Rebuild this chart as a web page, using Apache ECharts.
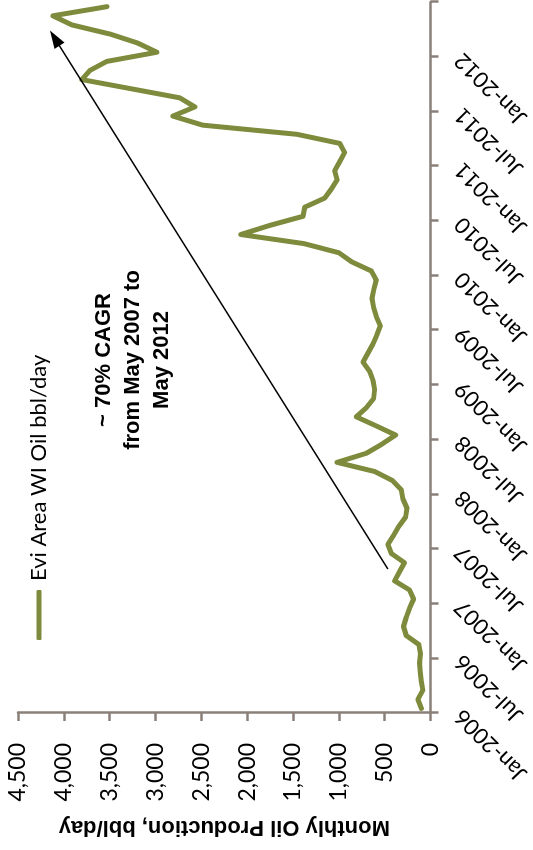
<!DOCTYPE html>
<html>
<head>
<meta charset="utf-8">
<title>Evi Area WI Oil</title>
<script src="https://cdn.jsdelivr.net/npm/echarts@6/dist/echarts.min.js"></script>
<style>
  html, body { margin: 0; padding: 0; background: #fff; overflow: hidden; }
  #stage { position: absolute; left: 0; top: 0; width: 533px; height: 850px; overflow: hidden; background: #fff; }
  /* The chart is laid out landscape (850 x 533) and turned a quarter turn
     counter-clockwise so the time axis runs up the right-hand side. */
  #chart {
    position: absolute; left: 0; top: 0; width: 850px; height: 533px;
    transform-origin: 0 0;
    transform: translate(0, 850px) rotate(-90deg);
  }
</style>
</head>
<body>
<div id="stage"><div id="chart"></div></div>
<script>
// Monthly production, Jan-2006 .. Jun-2012
const months = [
  'Jan-2006','Feb-2006','Mar-2006','Apr-2006','May-2006','Jun-2006','Jul-2006','Aug-2006','Sep-2006','Oct-2006','Nov-2006','Dec-2006',
  'Jan-2007','Feb-2007','Mar-2007','Apr-2007','May-2007','Jun-2007','Jul-2007','Aug-2007','Sep-2007','Oct-2007','Nov-2007','Dec-2007',
  'Jan-2008','Feb-2008','Mar-2008','Apr-2008','May-2008','Jun-2008','Jul-2008','Aug-2008','Sep-2008','Oct-2008','Nov-2008','Dec-2008',
  'Jan-2009','Feb-2009','Mar-2009','Apr-2009','May-2009','Jun-2009','Jul-2009','Aug-2009','Sep-2009','Oct-2009','Nov-2009','Dec-2009',
  'Jan-2010','Feb-2010','Mar-2010','Apr-2010','May-2010','Jun-2010','Jul-2010','Aug-2010','Sep-2010','Oct-2010','Nov-2010','Dec-2010',
  'Jan-2011','Feb-2011','Mar-2011','Apr-2011','May-2011','Jun-2011','Jul-2011','Aug-2011','Sep-2011','Oct-2011','Nov-2011','Dec-2011',
  'Jan-2012','Feb-2012','Mar-2012','Apr-2012','May-2012','Jun-2012'
];

// Evi Area WI oil, bbl/day
const oilBblDay = [
  101, 138, 84, 101, 112, 120, 109, 127, 265, 295, 265, 229,
  185, 229, 392, 338, 285, 428, 465, 403, 345, 272, 258, 302,
  319, 415, 610, 1020, 700, 530, 381, 592, 810, 700, 621, 610,
  628, 665, 737, 683, 628, 585, 548, 592, 621, 639, 618, 592,
  646, 860, 1000, 1380, 2070, 1754, 1391, 1373, 1155, 1082, 1019, 1046,
  991, 937, 991, 1460, 2484, 2811, 2571, 2735, 3269, 3803, 3716, 3530,
  2985, 3192, 3497, 3912, 4119, 3530
];

// Half-year tick labels on the time axis
const tickLabels = [
  'Jan-2006','Jul-2006','Jan-2007','Jul-2007','Jan-2008','Jul-2008','Jan-2009',
  'Jul-2009','Jan-2010','Jul-2010','Jan-2011','Jul-2011','Jan-2012'
];

// Growth arrow, as [months from Jan-2006, bbl/day]
const arrowFrom = [15.8, 465];
const arrowTo = [74.05, 4100];

const seriesName = 'Evi Area WI Oil bbl/day';
const annotation = '~ 70% CAGR\nfrom May 2007 to\nMay 2012';

const AXIS = '#8a8079';
const GREEN = '#7f8b3c';
const LABEL_FONT = 'Lato';

// each month sits in the middle of its slot on the time axis
const points = oilBblDay.map((v, i) => [i + 0.5, v]);

const chart = echarts.init(document.getElementById('chart'), null, { renderer: 'canvas' });

chart.setOption({
  animation: false,
  backgroundColor: '#ffffff',
  grid: { left: 137, right: 0, top: 18, bottom: 102, containLabel: false },
  legend: {
    show: true,
    left: 205,
    top: 23,
    selectedMode: false,
    icon: 'roundRect',
    itemWidth: 50,
    itemHeight: 5,
    data: [seriesName],
    itemStyle: { color: GREEN },
    textStyle: { fontFamily: LABEL_FONT, fontSize: 22, color: '#000', padding: [0, 0, 0, 4] }
  },
  xAxis: {
    type: 'value',
    min: 0,
    max: months.length,
    interval: 6,
    splitLine: { show: false },
    axisLine: { show: true, lineStyle: { color: AXIS, width: 2.5 } },
    axisTick: { show: true, length: 8, lineStyle: { color: AXIS, width: 2.5 } },
    axisLabel: {
      rotate: 45,
      margin: 28,
      color: '#000',
      fontFamily: LABEL_FONT,
      fontSize: 22,
      showMinLabel: true,
      showMaxLabel: true,
      hideOverlap: false,
      formatter: (v) => tickLabels[Math.round(v / 6)] || ''
    }
  },
  yAxis: {
    type: 'value',
    min: 0,
    max: 4500,
    interval: 500,
    splitLine: { show: false },
    axisLine: { show: true, lineStyle: { color: AXIS, width: 2.5 } },
    axisTick: { show: true, length: 8, lineStyle: { color: AXIS, width: 2.5 } },
    axisLabel: {
      margin: 30,
      color: '#000',
      fontFamily: LABEL_FONT,
      fontSize: 23,
      formatter: (v) => v.toLocaleString('en-US')
    },
    name: 'Monthly Oil Production, bbl/day',
    nameLocation: 'middle',
    nameGap: 103,
    nameTextStyle: {
      fontFamily: 'Liberation Sans',
      fontWeight: 'bold',
      fontSize: 22,
      color: '#000'
    }
  },
  series: [{
    name: seriesName,
    type: 'line',
    data: points,
    symbol: 'none',
    showSymbol: false,
    lineStyle: { color: GREEN, width: 5, join: 'round', cap: 'round' },
    itemStyle: { color: GREEN },
    emphasis: { disabled: true },
    markLine: {
      silent: true,
      animation: false,
      symbol: ['none', 'triangle'],
      symbolSize: [12, 18],
      label: { show: false },
      emphasis: { disabled: true },
      lineStyle: { color: '#000', width: 1.6, type: 'solid' },
      data: [[{ coord: arrowFrom }, { coord: arrowTo }]]
    }
  }],
  graphic: [{
    type: 'text',
    x: 490,
    y: 89,
    silent: true,
    style: {
      text: annotation,
      fill: '#000',
      font: 'bold 22px "Liberation Sans"',
      align: 'center',
      verticalAlign: 'top',
      lineHeight: 29
    }
  }]
});
</script>
</body>
</html>
